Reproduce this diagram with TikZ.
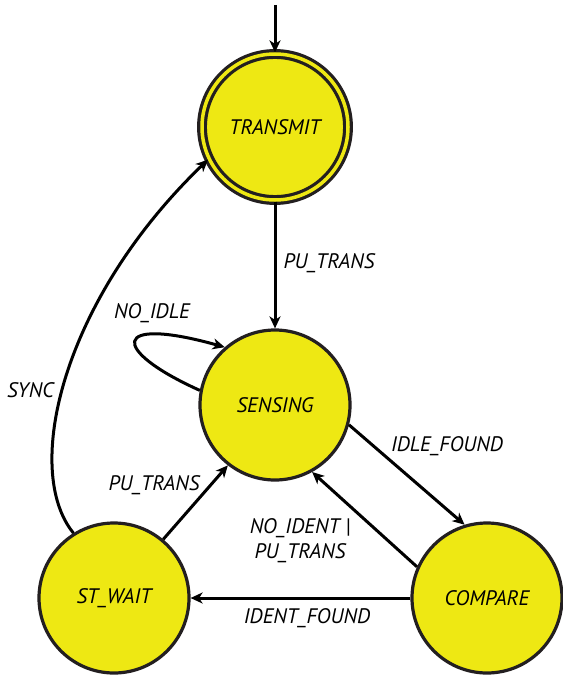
\documentclass[tikz,border=0pt]{standalone}
\usepackage{fontspec}
\setmainfont{PT Sans}
\usetikzlibrary{arrows.meta}
\definecolor{stfill}{HTML}{EEE813}
\definecolor{stline}{HTML}{231F20}
\begin{document}
\begin{tikzpicture}[x=1pt,y=-1pt,
  lblfont/.style={font=\fontsize{21}{25}\selectfont\itshape},
  state/.style={circle, fill=stfill, draw=stline, line width=3.2pt, minimum size=150pt, inner sep=0pt, lblfont},
  accstate/.style={state, double=stfill, double distance=3.5pt, minimum size=146pt},
  edge/.style={draw=black, line width=3pt, -{Stealth[length=12pt,width=11pt,inset=3.5pt]}},
  lbl/.style={lblfont, inner sep=0pt, align=center}]
\useasboundingbox (0,0) rectangle (562,676);

\node[accstate] (T) at (275,127) {TRANSMIT};
\node[state] (S) at (275,405) {SENSING};
\node[state] (W) at (114,598) {ST\_WAIT};
\node[state] (C) at (487,598) {COMPARE};
\coordinate (start) at (275,5);

\draw[edge] (start) -- (T);
\draw[edge] (T) -- (S);
\draw[edge] (S.169) .. controls (110,350) and (110,315) .. (S.131);
\draw[edge] (S.-15) -- (C.107);
\draw[edge] (C.156) -- (S.-61);
\draw[edge] (W.50) -- (S.-128);
\draw[edge] (C.west) -- (W.east);
\draw[edge] (W.122) .. controls (22,470) and (62,300) .. (T.206);

\node[lbl] (l1) at (329,263) {PU\_TRANS};
\node[lbl] (l2) at (152,313) {NO\_IDLE};
\node[lbl, anchor=east] (l3) at (54,390) {SYNC};
\node[lbl] (l4) at (447,446) {IDLE\_FOUND};
\node[lbl] (l5) at (154,485) {PU\_TRANS};
\node[lbl] (l6) at (300,541) {NO\_IDENT |\\PU\_TRANS};
\node[lbl] (l7) at (307,618) {IDENT\_FOUND};
\end{tikzpicture}
\end{document}
